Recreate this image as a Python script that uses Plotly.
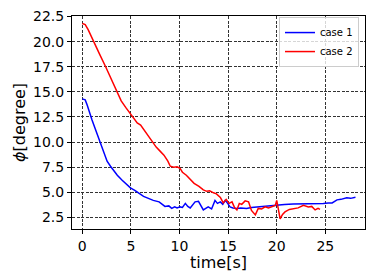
import plotly.graph_objects as go

# case 1 (blue)
t1 = [0.0, 0.3, 0.5, 0.8, 1.0, 1.3, 1.6, 1.85, 2.2, 2.55, 2.9, 3.2, 3.6, 4.1, 4.5, 4.95, 5.4, 5.8, 6.3, 6.8,
      7.3, 7.9, 8.2, 8.5, 8.9, 9.2, 9.5, 9.75, 10.05, 10.3, 10.6, 10.85, 11.1, 11.35, 11.6, 11.95, 12.2, 12.45,
      12.7, 12.95, 13.3, 13.65, 13.9, 14.2, 14.45, 14.7, 14.95, 15.2, 15.5, 15.9, 16.3, 16.9, 17.4, 17.9, 18.6,
      19.3, 20.0, 20.8, 21.7, 22.5, 23.4, 24.1, 24.8, 25.3, 25.7, 26.2, 26.6, 27.2, 27.6, 28.1]
phi1 = [14.3, 14.2, 13.7, 12.7, 12.2, 11.4, 10.6, 9.9, 9.0, 8.1, 7.6, 7.2, 6.7, 6.2, 5.8, 5.45, 5.2, 4.9, 4.6, 4.4,
        4.2, 4.05, 3.85, 3.6, 3.65, 3.4, 3.55, 3.45, 3.55, 3.5, 3.9, 3.6, 3.45, 3.75, 4.05, 4.1, 3.6, 3.25,
        3.4, 3.55, 3.35, 4.2, 3.9, 4.05, 3.8, 4.2, 3.9, 3.55, 3.45, 3.4, 3.45, 3.4, 3.5, 3.55, 3.6,
        3.7, 3.7, 3.8, 3.85, 3.85, 3.9, 3.85, 3.9, 3.95, 3.95, 4.25, 4.3, 4.45, 4.4, 4.5]

# case 2 (red)
t2 = [0.0, 0.3, 0.6, 1.2, 1.8, 2.4, 3.0, 3.5, 4.0, 4.5, 4.95, 5.3, 5.65, 6.0, 6.5, 7.2, 7.6, 8.0, 8.4, 8.8,
      9.05, 9.4, 9.75, 10.05, 10.3, 10.7, 11.1, 11.5, 12.0, 12.45, 12.8, 13.1, 13.5, 13.8, 14.2, 14.5, 14.8,
      15.1, 15.4, 15.65, 15.9, 16.15, 16.4, 16.75, 17.1, 17.4, 17.8, 18.1, 18.45, 18.8, 19.15, 19.5, 19.85,
      20.0, 20.2, 20.35, 20.6, 20.85, 21.3, 21.7, 22.2, 22.75, 23.25, 23.6, 23.95, 24.25, 24.45]
phi2 = [21.8, 21.7, 21.2, 19.9, 18.7, 17.5, 16.2, 15.1, 14.1, 13.4, 12.8, 12.4, 11.9, 11.7, 11.0, 9.95, 9.5, 9.1,
        8.7, 8.1, 7.6, 7.5, 7.55, 7.4, 7.0, 6.7, 6.3, 5.9, 5.6, 5.25, 5.1, 5.15, 4.95, 4.85, 4.5, 3.95, 4.3,
        3.9, 4.05, 3.5, 3.25, 3.9, 3.8, 4.15, 4.05, 3.2, 2.75, 3.4, 3.35, 3.55, 3.45, 3.6, 3.7,
        4.2, 3.0, 2.35, 2.8, 3.05, 3.3, 3.4, 3.45, 3.7, 3.55, 3.6, 3.25, 3.4, 3.3]

x_ticks = [0, 5, 10, 15, 20, 25]
y_ticks = [2.5, 5.0, 7.5, 10.0, 12.5, 15.0, 17.5, 20.0, 22.5]
y_tick_labels = ["2.5", "5.0", "7.5", "10.0", "12.5", "15.0", "17.5", "20.0", "22.5"]

fig = go.Figure()
fig.add_trace(go.Scatter(x=t1, y=phi1, mode="lines", name="case 1",
                         line=dict(color="blue", width=1.5)))
fig.add_trace(go.Scatter(x=t2, y=phi2, mode="lines", name="case 2",
                         line=dict(color="red", width=1.5)))

axis_common = dict(showline=True, linecolor="black", linewidth=1, mirror=True,
                   ticks="outside", ticklen=4, tickcolor="black", automargin=False,
                   ticklabeloverflow="allow",
                   showgrid=True, gridcolor="#333333", gridwidth=0.8, griddash="3px,1.5px",
                   zeroline=False, tickfont=dict(size=14, color="black"))

fig.update_xaxes(range=[-1.06, 29.08], tickvals=x_ticks,
                 title=dict(text="time[s]", font=dict(size=16, color="black"), standoff=2),
                 **axis_common)
fig.update_yaxes(range=[1.35, 22.55], tickvals=y_ticks, ticktext=y_tick_labels,
                 title=dict(text="<i>ϕ</i>[degree]", font=dict(size=16, color="black"), standoff=3),
                 **axis_common)

# page body has an 8px margin; figure sized so it fits the 374x280 window
fig.update_layout(
    width=358, height=264,
    margin=dict(l=64, r=1, t=8, b=43),
    paper_bgcolor="white", plot_bgcolor="white",
    font=dict(family="DejaVu Sans", color="black"),
    legend=dict(x=0.9795, y=0.995, xanchor="right", yanchor="top",
                bgcolor="rgba(255,255,255,0.8)", bordercolor="#cccccc", borderwidth=1,
                font=dict(size=10), itemwidth=30, tracegroupgap=0),
    showlegend=True,
)

fig.write_html("out.html")
